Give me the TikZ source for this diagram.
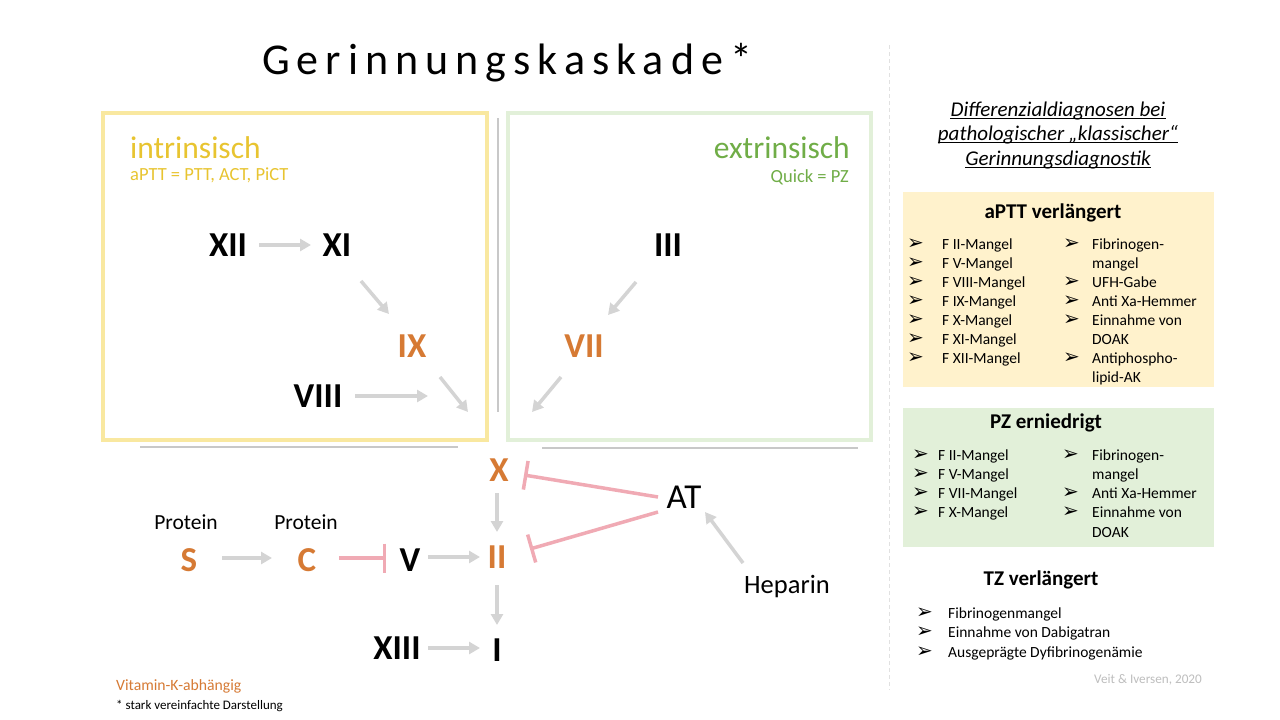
\documentclass[tikz,border=0pt]{standalone}
\usepackage{fontspec}
\setmainfont{Carlito}
\newfontfamily\symf{DejaVu Sans}
\newfontfamily\titlef[LetterSpace=16]{Carlito}
\usetikzlibrary{arrows.meta,calc}
\definecolor{ygold}{RGB}{232,196,48}
\definecolor{yborder}{RGB}{249,232,160}
\definecolor{gtext}{RGB}{112,173,71}
\definecolor{gborder}{RGB}{226,240,217}
\definecolor{korange}{RGB}{214,122,52}
\definecolor{agray}{RGB}{212,212,212}
\definecolor{ipink}{RGB}{240,170,180}
\definecolor{yfill}{RGB}{255,242,204}
\definecolor{gfill}{RGB}{226,240,217}
\definecolor{sepgray}{RGB}{200,200,200}
\definecolor{dashgray}{RGB}{225,225,225}
\definecolor{creditgray}{RGB}{190,190,190}
\begin{document}
\begin{tikzpicture}[x=1pt,y=-1pt,
  fac/.style={inner sep=0pt, font=\fontsize{35}{35}\selectfont\bfseries},
  ofac/.style={fac, text=korange},
  arr/.style={draw=agray, line width=3.5pt, -{Triangle[length=11pt,width=12pt]}},
  inh/.style={draw=ipink, line width=3.5pt, -{Bar[width=29pt]}},
  li/.style={inner sep=0pt, anchor=base west, font=\fontsize{15.5}{15.5}\selectfont},
  bu/.style={inner sep=0pt, anchor=base west, font=\symf\fontsize{20}{20}\selectfont},
  hd/.style={inner sep=0pt, anchor=base, font=\fontsize{21}{21}\selectfont\itshape},
  bh/.style={inner sep=0pt, anchor=base, font=\fontsize{21}{21}\selectfont\bfseries},
  sep/.style={draw=sepgray, line width=1.5pt}
]
\useasboundingbox (0,0) rectangle (1280,720);
\fill[white] (0,0) rectangle (1280,720);

% title
\node[anchor=base west, inner sep=0pt, font=\titlef\fontsize{44}{44}\selectfont] (title) at (262,74) {Gerinnungskaskade*};

% separators
\draw[dashgray, line width=1pt, dash pattern=on 4pt off 3pt] (889,45) -- (889,690);
\draw[sep] (498,118) -- (498,412);
\draw[sep] (140,447) -- (458,447);
\draw[sep] (542,448) -- (858,448);

% boxes
\draw[yborder, line width=4pt] (103,113) rectangle (487,440);
\draw[gborder, line width=4pt] (508,113) rectangle (871,440);

\node[anchor=base west, inner sep=0pt, text=ygold, font=\fontsize{31.5}{31.5}\selectfont] (intr) at (130,158) {intrinsisch};
\node[anchor=base west, inner sep=0pt, text=ygold, font=\fontsize{18.5}{18.5}\selectfont] (aptt) at (130,180) {aPTT = PTT, ACT, PiCT};
\node[anchor=base east, inner sep=0pt, text=gtext, font=\fontsize{31.5}{31.5}\selectfont] (extr) at (850,158) {extrinsisch};
\node[anchor=base east, inner sep=0pt, text=gtext, font=\fontsize{18.5}{18.5}\selectfont] (quick) at (849,182) {Quick = PZ};

% factors
\node[fac] (XII) at (228,245) {XII};
\node[fac] (XI) at (337,245) {XI};
\node[ofac] (IX) at (412,346) {IX};
\node[fac] (VIII) at (318,396) {VIII};
\node[fac] (III) at (668,245) {III};
\node[ofac] (VII) at (584,346) {VII};
\node[ofac] (X) at (499,470) {X};
\node[ofac] (II) at (497,557) {II};
\node[fac] (I) at (497,650) {I};
\node[fac] (XIII) at (397,648) {XIII};
\node[fac] (V) at (410,560) {V};
\node[ofac] (S) at (189,560) {S};
\node[ofac] (C) at (307,560) {C};
\node[anchor=base, inner sep=0pt, font=\fontsize{21.5}{21.5}\selectfont] (protS) at (186,529) {Protein};
\node[anchor=base, inner sep=0pt, font=\fontsize{21.5}{21.5}\selectfont] (protC) at (306,529) {Protein};
\node[inner sep=0pt, font=\fontsize{35}{35}\selectfont] (AT) at (684,497) {AT};
\node[anchor=base, inner sep=0pt, font=\fontsize{26.5}{26.5}\selectfont] (hep) at (787,593) {Heparin};

\coordinate (v8end) at (428,396);
\coordinate (ixend) at (468,412);
\coordinate (viiend) at (532,412);

% arrows
\draw[arr] ($(XII)+(31,0)$) -- ($(XI)+(-26,0)$);
\draw[arr] ($(XI)+(24,36)$) -- ($(IX)+(-23,-32)$);
\draw[arr] ($(VIII)+(37,0)$) -- (v8end);
\draw[arr] ($(IX)+(28,31)$) -- (ixend);
\draw[arr] ($(III)+(-32,37)$) -- ($(VII)+(24,-31)$);
\draw[arr] ($(VII)+(-23,31)$) -- (viiend);
\draw[arr] ($(X)+(-2,23)$) -- ($(II)+(0,-25)$);
\draw[arr] ($(II)+(0,28)$) -- ($(I)+(0,-25)$);
\draw[arr] ($(XIII)+(31,0)$) -- ($(I)+(-17,-2)$);
\draw[arr] ($(S)+(33,-2)$) -- ($(C)+(-35,-2)$);
\draw[arr] ($(V)+(18,-3)$) -- ($(II)+(-17,0)$);
\draw[arr] ($(hep.base)+(-44,-30)$) -- ($(AT)+(21,15)$);

% inhibitions
\draw[inh] ($(C)+(32,-2)$) -- ($(V)+(-24,-2)$);
\draw[inh] ($(AT)+(-26,0)$) -- ($(X)+(25,5)$);
\draw[inh] ($(AT)+(-26,15)$) -- ($(II)+(33,-8)$);

% footnotes
\node[anchor=base west, inner sep=0pt, text=korange, font=\fontsize{15.7}{15.7}\selectfont] (vitk) at (116,690) {Vitamin-K-abhängig};
\node[anchor=base west, inner sep=0pt, font=\fontsize{13}{13}\selectfont] (stark) at (116,709) {* stark vereinfachte Darstellung};
\node[anchor=base west, inner sep=0pt, text=creditgray, font=\fontsize{13.2}{13.2}\selectfont] (credit) at (1094,683) {Veit \& Iversen, 2020};

% right panel heading
\node[hd] (h1) at (1058,116) {Differenzialdiagnosen bei};
\node[hd] (h2) at (1058,140) {pathologischer „klassischer“};
\node[hd] (h3) at (1058,165) {Gerinnungsdiagnostik};
\foreach \h in {h1,h2,h3}
  \draw[line width=0.9pt] ($(\h.base west)+(0,2.5)$) -- ($(\h.base east)+(0,2.5)$);

% aPTT box
\fill[yfill] (903,192) rectangle (1214,387);
\node[bh] (aptth) at (1053,218) {aPTT verlängert};
\foreach \t [count=\i from 0] in {F II-Mangel,F V-Mangel,F VIII-Mangel,F IX-Mangel,F X-Mangel,F XI-Mangel,F XII-Mangel}{
  \node[li] (aL\i) at (942,249+19.1*\i) {\t};
  \node[bu] (aLb\i) at (907,249+19.1*\i) {➢};
}
\foreach \t [count=\i from 0] in {Fibrinogen-,mangel,UFH-Gabe,Anti Xa-Hemmer,Einnahme von,DOAK,Antiphospho-,lipid-AK}
  \node[li] (aR\i) at (1092,249+19.1*\i) {\t};
\foreach \i in {0,2,3,4,6}
  \node[bu] (aRb\i) at (1063,249+19.1*\i) {➢};

% PZ box
\fill[gfill] (903,408) rectangle (1214,547);
\node[bh] (pzh) at (1046,428) {PZ erniedrigt};
\foreach \t [count=\i from 0] in {F II-Mangel,F V-Mangel,F VII-Mangel,F X-Mangel}{
  \node[li] (pL\i) at (938,460+19.3*\i) {\t};
  \node[bu] (pLb\i) at (912,460+19.3*\i) {➢};
}
\foreach \t [count=\i from 0] in {Fibrinogen-,mangel,Anti Xa-Hemmer,Einnahme von,DOAK}
  \node[li] (pR\i) at (1092,460+19.3*\i) {\t};
\foreach \i in {0,2,3}
  \node[bu] (pRb\i) at (1062,460+19.3*\i) {➢};

% TZ
\node[bh] (tzh) at (1041,585) {TZ verlängert};
\foreach \t [count=\i from 0] in {Fibrinogenmangel,Einnahme von Dabigatran,Ausgeprägte Dyfibrinogenämie}{
  \node[li] (tL\i) at (948,618+19.5*\i) {\t};
  \node[bu] (tLb\i) at (916,618+19.5*\i) {➢};
}
\end{tikzpicture}
\end{document}
